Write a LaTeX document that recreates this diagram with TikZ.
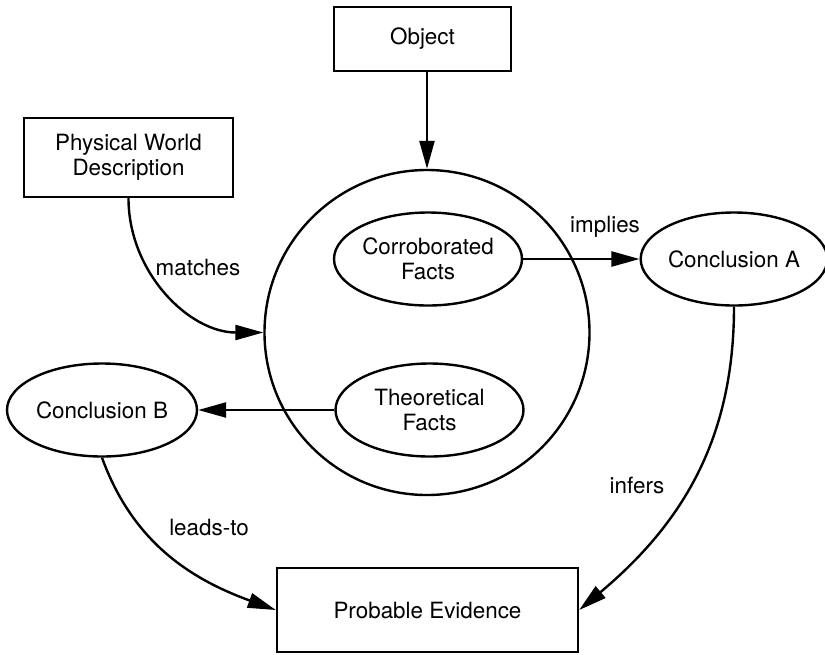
\documentclass[tikz,border=0pt]{standalone}
\usepackage{fontspec}
\setmainfont{TeX Gyre Heros}
\usetikzlibrary{shapes.geometric,arrows.meta}

\begin{document}
\begin{tikzpicture}[
        x=0.5pt, y=-0.5pt,
        line width=1.2pt,
        every node/.style={font=\fontsize{11.2}{12.5}\selectfont, align=center, inner sep=0pt},
        box/.style={draw, rectangle},
        fact/.style={draw, ellipse, minimum width=94pt, minimum height=46.5pt},
        link/.style={-{Triangle[length=14pt, width=7.5pt]}}
    ]
    \useasboundingbox (0,0) rectangle (825,654);

    \node [box, minimum width=88.5pt, minimum height=32pt] (object) at (422.5,39) {Object};
    \node [box, minimum width=104.5pt, minimum height=39.5pt] (pwd) at (128.5,157.5) {Physical World\\Description};
    \node [draw, circle, minimum size=162.5pt] (facts) at (427,332.5) {};
    \node [fact] (corroborated) at (428,259) {Corroborated\\Facts};
    \node [fact] (theoretical) at (429.5,410) {Theoretical\\Facts};
    \node [fact, minimum width=92pt] (conclA) at (734,259) {Conclusion A};
    \node [fact, minimum width=95pt] (conclB) at (102,410) {Conclusion B};
    \node [box, minimum width=150.5pt, minimum height=42pt] (evidence) at (427.5,610) {Probable Evidence};

    % connectors
    \draw [link] (object.south -| facts.north) -- (facts.north);
    \draw [link] (pwd.south) to [out=-90, in=180] (facts.west);
    \draw [link] (corroborated.east) -- (corroborated.east -| conclA.west);
    \draw [link] (theoretical.west) -- (theoretical.west -| conclB.east);
    \draw [link] (conclA.south) to [out=-90, in=40] (evidence.east);
    \draw [link] (conclB.south) to [out=-70, in=160] (evidence.west);

    % labels
    \node (matches) at (198,267) {matches};
    \node (implies) at (605,227) {implies};
    \node (infers) at (637,485) {infers};
    \node (leadsto) at (209,527) {leads-to};
\end{tikzpicture}
\end{document}
